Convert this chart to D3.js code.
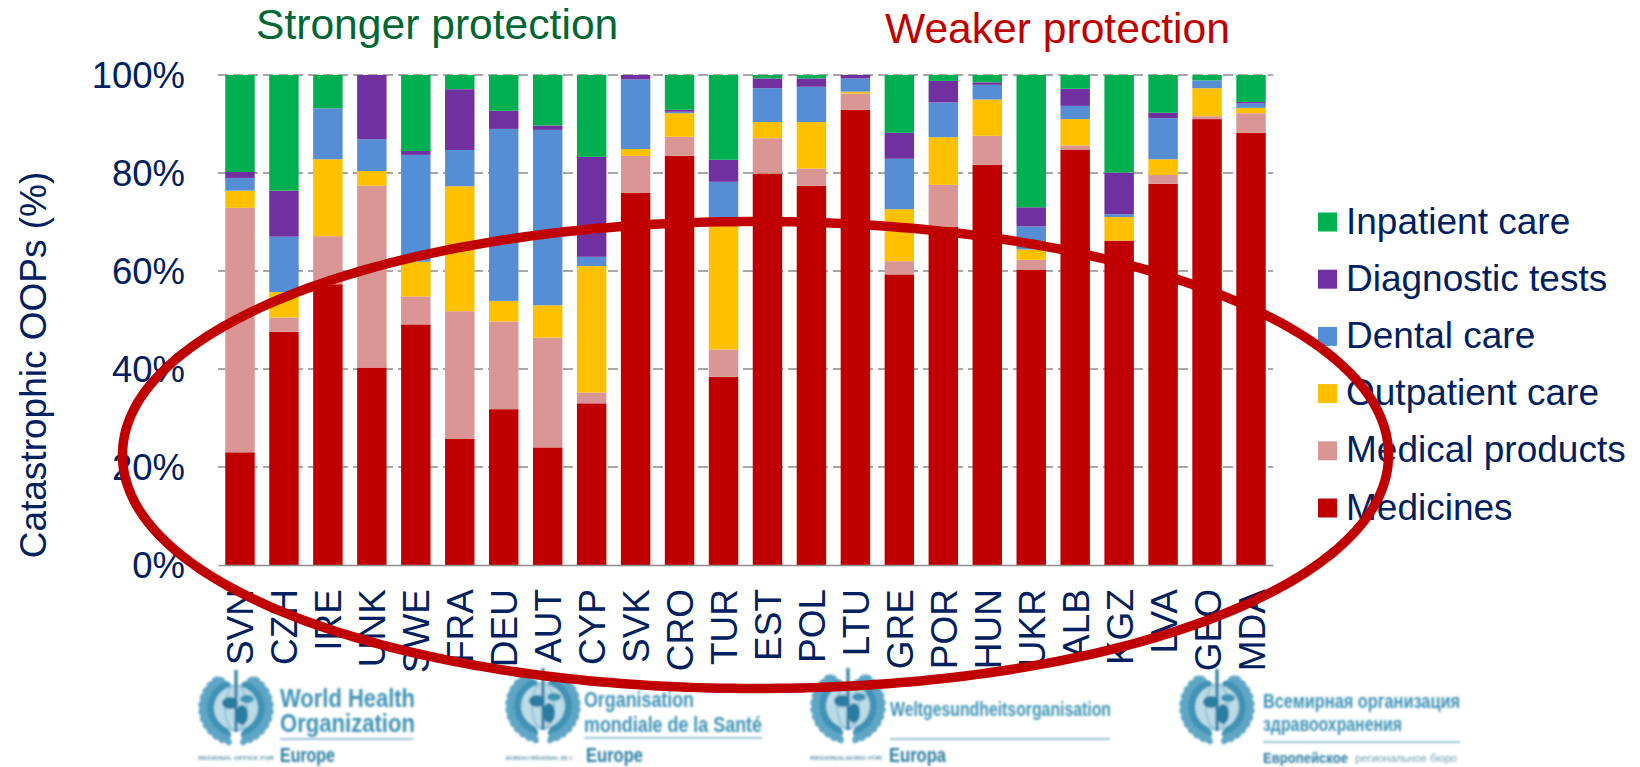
<!DOCTYPE html>
<html>
<head>
<meta charset="utf-8">
<script src="https://cdn.jsdelivr.net/npm/d3@7/dist/d3.min.js"></script>
<style>
  html, body { margin: 0; padding: 0; background: #fff; }
  svg { display: block; font-family: "Liberation Sans", Arial, sans-serif; }
</style>
</head>
<body>
<svg id="chart" width="1640" height="767"></svg>
<script>
// Out-of-pocket spending composition by country, in percent
const countries = ["SVN","CZH","IRE","UNK","SWE","FRA","DEU","AUT","CYP","SVK","CRO","TUR","EST","POL","LTU","GRE","POR","HUN","UKR","ALB","KGZ","LVA","GEO","MDA"];
const medicines = [23,47.6,57.3,40.3,49.1,25.8,31.8,24,33,76,83.5,38.4,79.9,77.4,92.9,59.3,69,81.7,60.3,84.8,66.2,77.8,91,88.2];
const medicalProducts = [49.9,2.9,9.8,37.1,5.7,26,17.9,22.4,2.2,7.5,3.9,5.6,7.2,3.5,3.3,2.7,8.6,5.9,2,0.8,0,1.8,0.6,4];
const outpatientCare = [3.5,5.2,15.7,3,7.1,25.5,4.2,6.6,25.8,1.4,4.8,27,3.3,9.5,0.4,10.6,9.7,7.4,2.1,5.4,4.8,3.2,5.7,1.1];
const dentalCare = [2.6,11.3,10.4,6.5,21.8,7.4,35.1,35.8,1.9,14.2,0.3,7.2,6.9,7.2,2.7,10.3,7.1,3,4.7,2.7,0.6,8.4,1.6,0.9];
const diagnosticTests = [1.2,9.4,0,13.1,0.8,12.4,3.7,0.9,20.4,0.9,0.4,4.5,2,1.7,0.7,5.3,4.4,0.5,3.9,3.5,8.5,1.1,0,0.3];
const inpatientCare = [19.8,23.6,6.8,0,15.5,2.9,7.3,10.3,16.7,0,7.1,17.3,0.7,0.7,0,11.8,1.2,1.5,27,2.8,19.9,7.7,1.1,5.5];

const seriesNames = ["Medicines","Medical products","Outpatient care","Dental care","Diagnostic tests","Inpatient care"];
const seriesValues = [medicines, medicalProducts, outpatientCare, dentalCare, diagnosticTests, inpatientCare];
const seriesColors = ["#C00000","#D99694","#FFC000","#558ED5","#7030A0","#00B050"];
const yTicks = [0,20,40,60,80,100];

const navy = "#002060";
const svg = d3.select("#chart");

const x = d3.scaleBand().domain(countries).range([218, 1273]).paddingInner(0.33).paddingOuter(0.165);
const y = d3.scaleLinear().domain([0, 100]).range([565, 75]);

// Dashed gridlines sit behind the bars
svg.append("g").selectAll("line")
  .data(yTicks.filter(t => t > 0))
  .join("line")
  .attr("x1", 218).attr("x2", 1273)
  .attr("y1", d => y(d)).attr("y2", d => y(d))
  .attr("stroke", "#8c8c8c").attr("stroke-width", 1.7)
  .attr("stroke-dasharray", "10 5");

// Stacked columns
const rows = countries.map((c, i) => {
  const row = { country: c };
  seriesNames.forEach((s, k) => { row[s] = seriesValues[k][i]; });
  return row;
});
const stacked = d3.stack().keys(seriesNames)(rows);

svg.append("g").selectAll("g")
  .data(stacked)
  .join("g")
  .attr("fill", (d, i) => seriesColors[i])
  .selectAll("rect")
  .data(d => d)
  .join("rect")
  .attr("x", d => x(d.data.country))
  .attr("width", x.bandwidth())
  .attr("y", d => y(d[1]))
  .attr("height", d => y(d[0]) - y(d[1]));

// Y axis: labels only
const yAxis = svg.append("g")
  .attr("transform", "translate(185,0)")
  .call(d3.axisLeft(y).tickValues(yTicks).tickFormat(d => d + "%").tickSize(0).tickPadding(0));
yAxis.select(".domain").remove();
yAxis.selectAll("text")
  .attr("font-size", 36.5).attr("fill", navy).attr("font-family", "Liberation Sans")
  .attr("dy", "0.34em");

// X axis: baseline and vertical country codes
const xAxis = svg.append("g")
  .attr("transform", "translate(0,565)")
  .call(d3.axisBottom(x).tickSize(0).tickPadding(0));
xAxis.select(".domain").attr("stroke", "#8c8c8c").attr("stroke-width", 1.7);
xAxis.selectAll("text")
  .attr("font-size", 37).attr("fill", navy).attr("font-family", "Liberation Sans")
  .attr("text-anchor", "end")
  .attr("dy", null).attr("y", null)
  .attr("transform", "translate(13.5,24) rotate(-90)");

svg.append("text")
  .attr("transform", "translate(46,365) rotate(-90)")
  .attr("text-anchor", "middle")
  .attr("font-size", 37).attr("fill", navy)
  .text("Catastrophic OOPs (%)");

svg.append("text").attr("x", 256).attr("y", 39).attr("font-size", 42.6).attr("fill", "#006633").text("Stronger protection");
svg.append("text").attr("x", 885).attr("y", 43).attr("font-size", 42.6).attr("fill", "#C00000").text("Weaker protection");

// Legend, top entry is the top of the stack
const legendOrder = d3.range(seriesNames.length).reverse();
const legend = svg.append("g").selectAll("g")
  .data(legendOrder)
  .join("g")
  .attr("transform", (d, i) => `translate(1318,${222 + i * 57.2})`);
legend.append("rect").attr("y", -9.5).attr("width", 19).attr("height", 19).attr("fill", d => seriesColors[d]);
legend.append("text").attr("x", 28).attr("y", 11.5).attr("font-size", 37).attr("fill", navy).text(d => seriesNames[d]);

// Regional office logotypes along the foot of the page
const logoInk = "#3f93b5";
const logoDark = "#2a7ba0";
const defs = svg.append("defs");
defs.append("filter").attr("id", "soft").attr("x", "-5%").attr("y", "-5%").attr("width", "110%").attr("height", "110%")
  .append("feGaussianBlur").attr("stdDeviation", 1);

const logos = [
  { cx: 236, cy: 708, tx: 280, rule: [739, 413],
    lines: [["World Health", 707, 26, 135], ["Organization", 732, 26, 135]],
    small: ["REGIONAL OFFICE FOR", 198, 76], place: ["Europe", 280, 762, 55, 20] },
  { cx: 543, cy: 706, tx: 584, rule: [738, 762],
    lines: [["Organisation", 707, 22, 110], ["mondiale de la Santé", 732, 22, 178]],
    small: ["BUREAU RÉGIONAL DE L'", 506, 68], place: ["Europe", 586, 762, 57, 20] },
  { cx: 848, cy: 706, tx: 890, rule: [739, 1110],
    lines: [["Weltgesundheitsorganisation", 716, 20, 221]],
    small: ["REGIONALBÜRO FÜR", 810, 72], place: ["Europa", 889, 762, 57, 20] },
  { cx: 1217, cy: 707, tx: 1263, rule: [742, 1460],
    lines: [["Всемирная организация", 708, 20, 197], ["здравоохранения", 731, 20, 139]],
    small: null, place: ["Европейское", 1263, 763, 85, 15], extra: ["региональное бюро", 1355, 762, 102] }
];

// Globe with staff, continents and two olive branches
function drawEmblem(g) {
  g.append("circle").attr("r", 24).attr("fill", "#bcdbe8");
  g.append("ellipse").attr("rx", 11).attr("ry", 23).attr("fill", "none").attr("stroke", "#7fb3ca").attr("stroke-width", 1.2);
  g.append("ellipse").attr("cx", -6).attr("cy", -5).attr("rx", 8).attr("ry", 6).attr("fill", logoDark);
  g.append("ellipse").attr("cx", 6).attr("cy", 7).attr("rx", 6).attr("ry", 10).attr("fill", logoDark);
  g.append("ellipse").attr("cx", 11).attr("cy", -9).attr("rx", 7).attr("ry", 4).attr("fill", logoInk);
  g.append("rect").attr("x", -1.5).attr("y", -38).attr("width", 3).attr("height", 62).attr("fill", logoDark);
  [-1, 1].forEach(side => {
    [26, 33].forEach((radius, row) => {
      d3.range(-64, 80, 12).forEach(a => {
        const t = (a + row * 6) * Math.PI / 180;
        g.append("ellipse")
          .attr("rx", 6.5).attr("ry", 3.6)
          .attr("fill", row ? "#5ea6c4" : logoInk)
          .attr("transform", `translate(${side * radius * Math.cos(t)},${radius * Math.sin(t)}) rotate(${side * (a + 60)})`);
      });
    });
  });
}

const logoGroup = svg.append("g").attr("filter", "url(#soft)").attr("fill", logoInk);
logos.forEach(l => {
  const g = logoGroup.append("g");
  drawEmblem(g.append("g").attr("transform", `translate(${l.cx},${l.cy})`));
  l.lines.forEach(t => {
    g.append("text").attr("x", l.tx).attr("y", t[1]).attr("font-size", t[2]).attr("font-weight", "bold")
      .attr("textLength", t[3]).attr("lengthAdjust", "spacingAndGlyphs").text(t[0]);
  });
  g.append("line").attr("x1", l.tx).attr("x2", l.rule[1]).attr("y1", l.rule[0]).attr("y2", l.rule[0])
    .attr("stroke", "#9cc3d3").attr("stroke-width", 2);
  if (l.small) {
    g.append("text").attr("x", l.small[1]).attr("y", 760).attr("font-size", 6).attr("font-weight", "bold")
      .attr("fill", "#5f93ab").attr("textLength", l.small[2]).attr("lengthAdjust", "spacingAndGlyphs").text(l.small[0]);
  }
  g.append("text").attr("x", l.place[1]).attr("y", l.place[2]).attr("font-size", l.place[4]).attr("font-weight", "bold")
    .attr("fill", logoDark).attr("textLength", l.place[3]).attr("lengthAdjust", "spacingAndGlyphs").text(l.place[0]);
  if (l.extra) {
    g.append("text").attr("x", l.extra[1]).attr("y", l.extra[2]).attr("font-size", 11)
      .attr("fill", "#6f9db3").attr("textLength", l.extra[3]).attr("lengthAdjust", "spacingAndGlyphs").text(l.extra[0]);
  }
});

// Emphasis ring over everything else: a slightly squared oval, as a hand-placed shape
const ringCx = 755.5, ringCy = 455, ringRx = 633, ringRy = 233.5, ringPower = 2.03;
const ringPath = d3.line().curve(d3.curveLinearClosed)(
  d3.range(0, 360, 1).map(deg => {
    const t = deg * Math.PI / 180;
    const c = Math.cos(t), s = Math.sin(t);
    return [
      ringCx + ringRx * Math.sign(c) * Math.pow(Math.abs(c), 2 / ringPower),
      ringCy + ringRy * Math.sign(s) * Math.pow(Math.abs(s), 2 / ringPower)
    ];
  })
);
svg.append("path").attr("d", ringPath)
  .attr("fill", "none").attr("stroke", "#C00000").attr("stroke-width", 9.5);
</script>
</body>
</html>
